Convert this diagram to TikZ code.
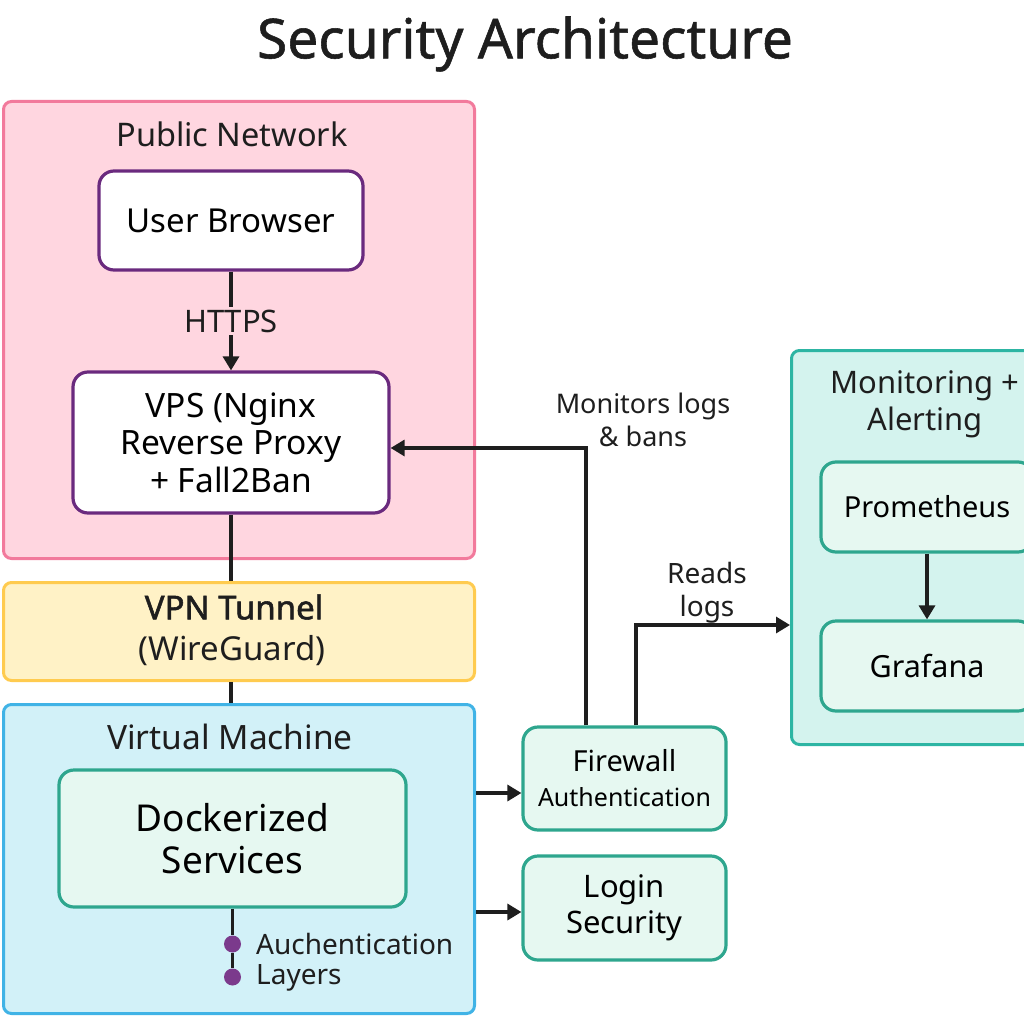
\documentclass[tikz,border=0pt]{standalone}
\usepackage{fontspec}
\setmainfont{Noto Sans}
\newfontfamily\vpnfont{Noto Sans}[FakeBold=1.6]
\newfontfamily\titlefont{Noto Sans}[FakeBold=1.0]
\usetikzlibrary{arrows.meta}
\definecolor{pinkfill}{HTML}{FFD6E0}
\definecolor{pinkline}{HTML}{F27A9C}
\definecolor{purp}{HTML}{6A2A7E}
\definecolor{yelfill}{HTML}{FFF2C6}
\definecolor{yelline}{HTML}{FFCB4F}
\definecolor{cyanfill}{HTML}{D2F1F8}
\definecolor{cyanline}{HTML}{40B3E6}
\definecolor{mintfill}{HTML}{E6F8F1}
\definecolor{tealline}{HTML}{2EA68E}
\definecolor{monfill}{HTML}{D4F3EE}
\definecolor{monline}{HTML}{2DB5A3}
\definecolor{dotc}{HTML}{7B3A8C}
\definecolor{ink}{HTML}{1E1E1E}
\tikzset{
  fs/.style={font=\fontsize{#1pt}{1.25\dimexpr#1pt\relax}\selectfont},
  container/.style={draw, line width=3pt, rounded corners=8pt, anchor=north west, inner sep=0pt},
  whitebox/.style={draw=purp, fill=white, line width=3.2pt, rounded corners=15pt, align=center, inner sep=0pt},
  mintbox/.style={draw=tealline, fill=mintfill, line width=3.2pt, rounded corners=15pt, align=center, inner sep=0pt},
  conn/.style={draw=ink, line width=3.2pt},
  arr/.style={conn, -{Triangle[length=14pt,width=16pt]}},
  lbl/.style={text=ink, align=center, inner sep=1pt},
  dot/.style={circle, fill=dotc, minimum size=17pt, inner sep=0pt},
}
\begin{document}
\begin{tikzpicture}[x=1pt,y=-1pt]
\useasboundingbox (0,0) rectangle (1024,1024);
\clip (0,0) rectangle (1024,1024);
\fill[white] (0,0) rectangle (1024,1024);

\node[lbl, font=\fontsize{55pt}{66pt}\titlefont] (title) at (525,44) {Security Architecture};

% containers
\node[container, draw=pinkline, fill=pinkfill, minimum width=471pt, minimum height=457pt] (pub) at (2,100) {};
\node[lbl, fs=32.5] (publbl) at (232,134) {Public Network};
\node[container, draw=yelline, fill=yelfill, minimum width=471pt, minimum height=98pt] (vpn) at (2,581) {};
\node[lbl, font=\fontsize{33pt}{40pt}\vpnfont] (vpnlbl1) at (234,607) {VPN Tunnel};
\node[lbl, fs=33] (vpnlbl2) at (232,651) {(WireGuard)};
\node[container, draw=cyanline, fill=cyanfill, minimum width=471pt, minimum height=309pt] (vm) at (2,703) {};
\node[lbl, fs=33.5] (vmlbl) at (230,737) {Virtual Machine};
\node[container, draw=monline, fill=monfill, minimum width=270pt, minimum height=394pt] (mon) at (790,349) {};
\node[lbl, font=\fontsize{31pt}{37pt}\selectfont] (monlbl) at (925,404) {Monitoring +\\Alerting};

% boxes
\node[whitebox, minimum width=264pt, minimum height=99pt, fs=33] (ub) at (231,220.5) {User Browser};
\node[whitebox, minimum width=316pt, minimum height=141pt, font=\fontsize{33.5pt}{37.5pt}\selectfont] (vps) at (231,442.5) {VPS (Nginx\\Reverse Proxy\\+ Fall2Ban};
\node[mintbox, minimum width=347pt, minimum height=137pt, font=\fontsize{37pt}{42pt}\selectfont] (dock) at (232.5,838.5) {Dockerized\\Services};
\node[mintbox, minimum width=203pt, minimum height=103pt, font=\fontsize{29pt}{35pt}\selectfont] (fw) at (624.5,778.5) {Firewall\\{\fontsize{25pt}{35pt}\selectfont Authentication}};
\node[mintbox, minimum width=203pt, minimum height=104pt, font=\fontsize{31pt}{36pt}\selectfont] (login) at (624.5,908) {Login\\Security};
\node[mintbox, minimum width=212pt, minimum height=90pt, fs=29] (prom) at (927,507) {Prometheus};
\node[mintbox, minimum width=212pt, minimum height=90pt, fs=30.5] (graf) at (927,666) {Grafana};

% connectors
\draw[arr] (ub) -- node[lbl, fill=pinkfill, fs=31, inner sep=3pt] (https) {HTTPS} (vps);
\draw[conn] (vps.south) -- (vpn.north -| vps.south);
\draw[conn] (vpn.south -| vps.south) -- (vm.north -| vps.south);

\node[dot] (d1) at (232.5,944) {};
\node[dot] (d2) at (232.5,977) {};
\draw[conn] (dock.south) -- (d1) -- (d2);
\node[lbl, fs=28, anchor=west] (auth1) at (255,944) {Auchentication};
\node[lbl, fs=28, anchor=west] (auth2) at (255,978) {Layers};

\coordinate (a1) at (476,793);
\coordinate (a2) at (476,912);
\draw[arr] (a1) -- (fw.west |- a1);
\draw[arr] (a2) -- (login.west |- a2);

\coordinate (m1) at (586,448);
\draw[arr] (fw.north -| m1) |- (vps.east |- m1);
\node[lbl, font=\fontsize{27pt}{33pt}\selectfont] (monitorslbl) at (643,420) {Monitors logs\\\& bans};

\coordinate (r1) at (636,625);
\draw[arr] (fw.north -| r1) |- (mon.west |- r1);
\node[lbl, font=\fontsize{28pt}{33pt}\selectfont] (readslbl) at (707,593) {Reads\\logs};

\draw[arr] (prom.south) -- (graf.north);
\end{tikzpicture}
\end{document}
